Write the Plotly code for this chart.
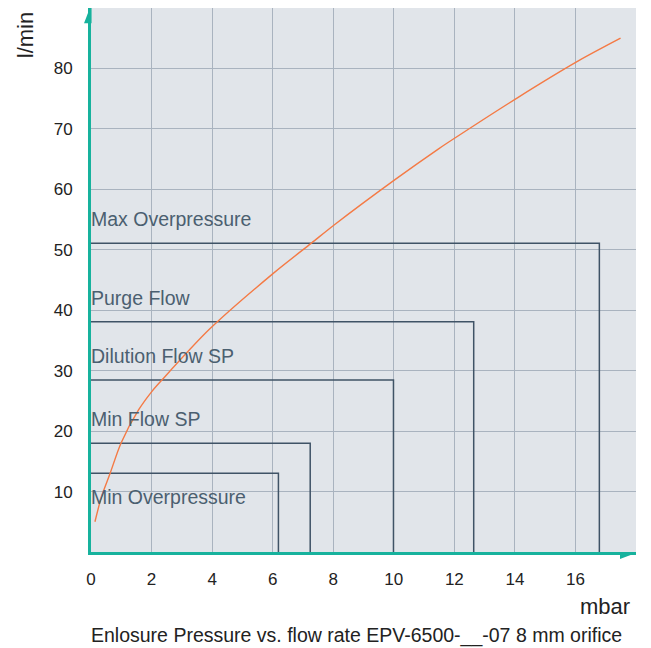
import plotly.graph_objects as go

# Flow curve (mbar vs l/min)
curve_x = [0.13, 0.35, 0.63, 0.99, 1.57, 2.0, 2.35, 3.9, 6.02, 7.28, 8.03, 10.04, 11.48, 11.93, 14.07, 16.08, 17.49]
curve_y = [5.0, 9.2, 13.0, 18.0, 23.5, 26.5, 28.5, 36.8, 46.1, 51.1, 54.1, 61.6, 66.7, 68.2, 75.1, 81.2, 85.0]

# Threshold boxes
box_names = ["Max Overpressure", "Purge Flow", "Dilution Flow SP", "Min Flow SP", "Min Overpressure"]
box_flow = [51.07, 38.1, 28.47, 18.0, 13.04]
box_pressure = [16.79, 12.64, 9.99, 7.24, 6.19]
label_above = [True, True, True, True, False]

x_ticks = [0, 2, 4, 6, 8, 10, 12, 14, 16]
y_ticks = [10, 20, 30, 40, 50, 60, 70, 80]

FONT = "Liberation Sans, Arial, sans-serif"
TEAL = "#17b29d"
BOXC = "#3f5366"
GRID = "#a9b3bf"

fig = go.Figure()

for name, fy, px in zip(box_names, box_flow, box_pressure):
    fig.add_trace(go.Scatter(x=[0, px, px], y=[fy, fy, 0], mode="lines",
                             line=dict(color=BOXC, width=1.5), hoverinfo="skip",
                             showlegend=False, cliponaxis=False))

fig.add_trace(go.Scatter(x=curve_x, y=curve_y, mode="lines",
                         line=dict(color="#f47a45", width=1.4, shape="spline", smoothing=0.8),
                         showlegend=False))

annotations = []
for name, fy, above in zip(box_names, box_flow, label_above):
    annotations.append(dict(x=0, y=fy + (4.0 if above else -4.0), xref="x", yref="y",
                            text=name, showarrow=False, xanchor="left", yanchor="middle",
                            xshift=-2, font=dict(family=FONT, size=19.5, color="#4b5f70")))

annotations += [
    dict(x=-0.121, y=0.95, xref="paper", yref="paper", text="l/min", textangle=-90,
         showarrow=False, xanchor="center", yanchor="middle",
         font=dict(family=FONT, size=22, color="#222222")),
    dict(x=0.993, y=-0.101, xref="paper", yref="paper", text="mbar",
         showarrow=False, xanchor="right", yanchor="middle",
         font=dict(family=FONT, size=22, color="#222222")),
    dict(x=0.488, y=-0.154, xref="paper", yref="paper",
         text="Enlosure Pressure vs. flow rate EPV-6500-__-07 8 mm orifice",
         showarrow=False, xanchor="center", yanchor="middle",
         font=dict(family=FONT, size=19.5, color="#222222")),
]

shapes = [
    dict(type="path", xref="paper", yref="paper",
         path="M -0.0128,0.972 L 0.001,0.972 L 0.001,1.0 L -0.002,1.0 Z",
         fillcolor=TEAL, line=dict(width=0), layer="above"),
    dict(type="path", xref="paper", yref="paper",
         path="M 0.9706,0.0 L 1.0,0.0 L 1.0,-0.002 L 0.9706,-0.0129 Z",
         fillcolor=TEAL, line=dict(width=0), layer="above"),
]

fig.update_layout(
    width=643, height=640,
    margin=dict(l=83, r=15, t=0, b=96),
    paper_bgcolor="white", plot_bgcolor="#e1e5ea",
    font=dict(family=FONT, size=17, color="#222222"),
    annotations=annotations, shapes=shapes,
    xaxis=dict(range=[0, 18], tickvals=x_ticks, ticktext=[str(v) for v in x_ticks],
               showgrid=True, gridcolor=GRID, gridwidth=1.2, zeroline=False,
               showline=True, linecolor=TEAL, linewidth=3, ticks="",
               ticklabelstandoff=10, tickfont=dict(size=17, color="#222222")),
    yaxis=dict(range=[0, 90], tickvals=y_ticks, ticktext=[str(v) for v in y_ticks],
               showgrid=True, gridcolor=GRID, gridwidth=1.2, zeroline=False,
               showline=True, linecolor=TEAL, linewidth=3, ticks="",
               ticklabelstandoff=12, tickfont=dict(size=17, color="#222222")),
)

fig.write_html("out.html")
